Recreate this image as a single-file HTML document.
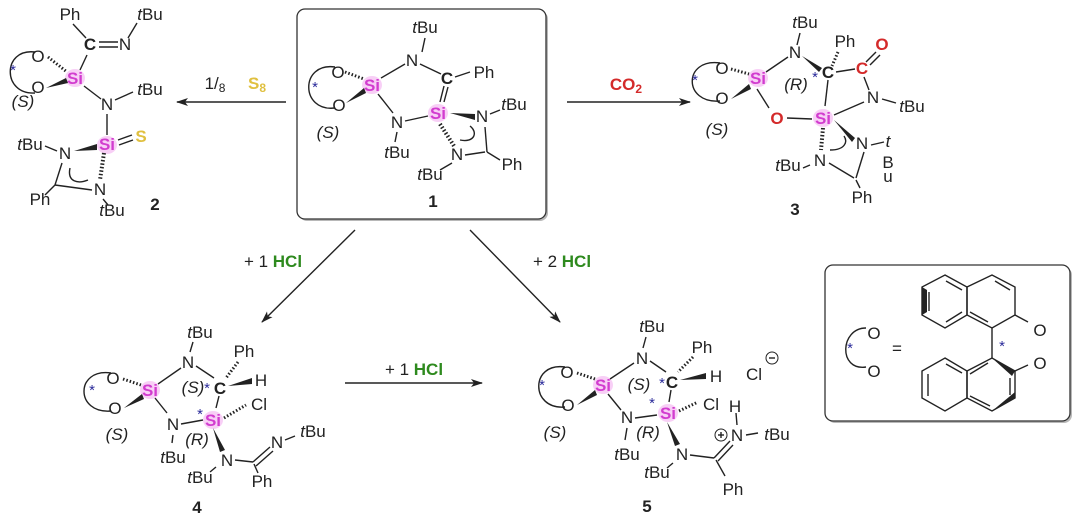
<!DOCTYPE html>
<html><head><meta charset="utf-8"><style>
html,body{margin:0;padding:0;background:#fff;}
svg{display:block;font-family:"Liberation Sans",sans-serif;}
text{font-size:17px;fill:#222;text-anchor:middle;}
.si{fill:#d23ccf;font-weight:bold;}
.st{fill:#2a2a9a;font-size:15px;}
.r{fill:#d42a2a;font-weight:bold;}
.g{fill:#2e8a1e;font-weight:bold;}
.y{fill:#e0c040;font-weight:bold;}
.b{font-weight:bold;}
.i{font-style:italic;}
line,path,polyline,polygon{stroke:#222;stroke-width:1.4;fill:none;}
.sh{fill:#f3a8ef;opacity:.55;}
</style></head><body>
<svg width="1080" height="522" viewBox="0 0 1080 522">
<defs>
<marker id="ah" markerWidth="12" markerHeight="8" refX="11" refY="4" orient="auto" markerUnits="userSpaceOnUse">
<path d="M0,0 L12,4 L0,8 L3,4 Z" style="fill:#222;stroke:none"/></marker>
</defs>
<!-- boxes -->
<rect x="299" y="11" width="249" height="210" rx="8" style="fill:#888;stroke:none;opacity:.6"/>
<rect x="297" y="9" width="249" height="210" rx="8" style="fill:#fff;stroke:#333;stroke-width:1.3"/>
<rect x="827" y="267" width="245" height="156" rx="8" style="fill:#888;stroke:none;opacity:.6"/>
<rect x="825" y="265" width="245" height="156" rx="8" style="fill:#fff;stroke:#333;stroke-width:1.3"/>

<!-- arrows -->
<line x1="286" y1="102" x2="177" y2="102" marker-end="url(#ah)"/>
<text x="215" y="89">1/<tspan font-size="12" dy="3">8</tspan></text>
<text x="257" y="89" class="y">S<tspan font-size="12" dy="3">8</tspan></text>
<line x1="567" y1="102" x2="690" y2="102" marker-end="url(#ah)"/>
<text x="626" y="90" class="r">CO<tspan font-size="12" dy="3">2</tspan></text>
<line x1="355" y1="230" x2="262" y2="322" marker-end="url(#ah)"/>
<text x="273" y="267">+ 1 <tspan class="g">HCl</tspan></text>
<line x1="470" y1="230" x2="560" y2="322" marker-end="url(#ah)"/>
<text x="562" y="267">+ 2 <tspan class="g">HCl</tspan></text>
<line x1="345" y1="383" x2="482" y2="383" marker-end="url(#ah)"/>
<text x="414" y="375">+ 1 <tspan class="g">HCl</tspan></text>

<!-- molecule 1 -->
<g>
<ellipse class="sh" cx="372" cy="85" rx="10" ry="9"/><ellipse class="sh" cx="438" cy="113" rx="10" ry="9"/>
<path d="M335,67 C300,62 300,112 335,108"/>
<text x="315" y="92" class="st">*</text>
<text x="338" y="78">O</text><text x="339" y="111">O</text>
<text x="372" y="91" class="si">Si</text>
<text x="425" y="33" class="i">t<tspan font-style="normal">Bu</tspan></text>
<line x1="425" y1="38" x2="422" y2="52"/>
<text x="412" y="66">N</text>
<line x1="381" y1="78" x2="405" y2="64"/><line x1="420" y1="64" x2="441" y2="74"/>
<text x="447" y="84" class="b">C</text>
<line x1="455" y1="77" x2="470" y2="72"/><text x="484" y="78">Ph</text>
<line x1="444" y1="86" x2="440" y2="102"/><line x1="448" y1="87" x2="444" y2="102"/>
<line x1="378" y1="94" x2="393" y2="113"/>
<text x="397" y="128">N</text>
<line x1="405" y1="121" x2="428" y2="116"/>
<line x1="397" y1="132" x2="395" y2="142"/>
<text x="397" y="158" class="i">t<tspan font-style="normal">Bu</tspan></text>
<text x="438" y="119" class="si">Si</text>
<path d="M450,113 L475,114 L475,120 Z" style="fill:#222;stroke:none"/>
<text x="482" y="122">N</text>
<text x="514" y="110" class="i">t<tspan font-style="normal">Bu</tspan></text>
<line x1="490" y1="114" x2="500" y2="110"/>
<path d="M440,124 L454,146" stroke-dasharray="1.5,2" style="stroke-width:4"/>
<text x="457" y="160">N</text>
<line x1="465" y1="155" x2="485" y2="152"/><line x1="485" y1="127" x2="487" y2="152"/>
<path d="M460,140 C475,143 478,132 470,126"/>
<line x1="487" y1="152" x2="500" y2="160"/>
<text x="512" y="170">Ph</text>
<line x1="452" y1="163" x2="440" y2="170"/>
<text x="430" y="180" class="i">t<tspan font-style="normal">Bu</tspan></text>
<text x="328" y="138" class="i">(S)</text>
<text x="433" y="207" class="b">1</text>
<line x1="345" y1="72" x2="364" y2="79" stroke-dasharray="1.5,2" style="stroke-width:3"/>
<path d="M346,103 L364,88 L366,93 Z" style="fill:#222;stroke:none"/>
</g>

<!-- molecule 2 -->
<g>
<ellipse class="sh" cx="75" cy="78" rx="10" ry="9"/><ellipse class="sh" cx="107" cy="145" rx="10" ry="9"/>
<path d="M35,52 C2,48 2,95 35,93"/>
<text x="13" y="75" class="st">*</text>
<text x="70" y="20">Ph</text><text x="150" y="20" class="i">t<tspan font-style="normal">Bu</tspan></text>
<line x1="73" y1="24" x2="86" y2="38"/><line x1="137" y1="23" x2="128" y2="38"/>
<text x="90" y="50" class="b">C</text>
<line x1="99" y1="42" x2="118" y2="42"/><line x1="99" y1="47" x2="118" y2="47"/>
<text x="125" y="50">N</text>
<text x="38" y="62">O</text><text x="38" y="93">O</text>
<line x1="48" y1="57" x2="67" y2="72" stroke-dasharray="1.5,2" style="stroke-width:3"/>
<path d="M46,88 L66,78 L68,83 Z" style="fill:#222;stroke:none"/>
<line x1="87" y1="55" x2="80" y2="70"/>
<text x="75" y="84" class="si">Si</text>
<text x="23" y="107" class="i">(S)</text>
<line x1="84" y1="86" x2="101" y2="99"/>
<text x="107" y="110">N</text>
<line x1="115" y1="100" x2="133" y2="92"/>
<text x="150" y="95" class="i">t<tspan font-style="normal">Bu</tspan></text>
<line x1="107" y1="114" x2="107" y2="135"/>
<text x="107" y="150" class="si">Si</text>
<line x1="118" y1="140" x2="132" y2="135"/><line x1="119" y1="145" x2="133" y2="140"/>
<text x="141" y="142" class="y">S</text>
<text x="30" y="150" class="i">t<tspan font-style="normal">Bu</tspan></text>
<line x1="45" y1="146" x2="57" y2="151"/>
<text x="65" y="159">N</text>
<path d="M74,151 L97,144 L97,150 Z" style="fill:#222;stroke:none"/>
<path d="M104,153 L100,180" stroke-dasharray="1.5,2" style="stroke-width:4"/>
<text x="100" y="195">N</text>
<line x1="62" y1="163" x2="55" y2="185"/><line x1="55" y1="185" x2="92" y2="190"/>
<path d="M70,168 C67,182 78,184 88,180"/>
<line x1="55" y1="185" x2="45" y2="195"/>
<text x="40" y="205">Ph</text>
<line x1="103" y1="199" x2="108" y2="205"/>
<text x="112" y="216" class="i">t<tspan font-style="normal">Bu</tspan></text>
<text x="155" y="210" class="b">2</text>
</g>

<!-- molecule 3 -->
<g>
<ellipse class="sh" cx="758" cy="78" rx="10" ry="9"/><ellipse class="sh" cx="823" cy="118" rx="10" ry="9"/>
<path d="M720,63 C683,58 683,104 720,101"/>
<text x="695" y="85" class="st">*</text>
<text x="722" y="74">O</text><text x="722" y="104">O</text>
<line x1="731" y1="69" x2="749" y2="74" stroke-dasharray="1.5,2" style="stroke-width:3"/>
<path d="M731,99 L749,84 L751,89 Z" style="fill:#222;stroke:none"/>
<text x="758" y="84" class="si">Si</text>
<text x="805" y="28" class="i">t<tspan font-style="normal">Bu</tspan></text>
<line x1="800" y1="33" x2="797" y2="45"/>
<text x="795" y="58">N</text>
<line x1="766" y1="72" x2="788" y2="57"/>
<path d="M802,56 L822,68 L819,72 Z" style="fill:#222;stroke:none"/>
<text x="828" y="78" class="b">C</text>
<text x="815" y="82" class="st">*</text>
<text x="796" y="90" class="i">(R)</text>
<text x="845" y="47">Ph</text>
<line x1="838" y1="52" x2="832" y2="66" stroke-dasharray="1.5,2" style="stroke-width:3"/>
<line x1="836" y1="72" x2="855" y2="69"/>
<text x="862" y="74" class="r">C</text>
<text x="882" y="50" class="r">O</text>
<line x1="866" y1="62" x2="876" y2="52"/><line x1="870" y1="65" x2="880" y2="55"/>
<line x1="864" y1="77" x2="869" y2="90"/>
<text x="873" y="103">N</text>
<line x1="882" y1="99" x2="896" y2="103"/>
<text x="912" y="112" class="i">t<tspan font-style="normal">Bu</tspan></text>
<line x1="757" y1="89" x2="769" y2="108"/>
<text x="777" y="124" class="r">O</text>
<line x1="787" y1="118" x2="812" y2="119"/>
<line x1="828" y1="80" x2="825" y2="106"/>
<text x="823" y="124" class="si">Si</text>
<line x1="834" y1="115" x2="864" y2="102"/>
<path d="M834,120 L855,138 L852,142 Z" style="fill:#222;stroke:none"/>
<text x="862" y="149">N</text>
<line x1="871" y1="145" x2="884" y2="142"/>
<text x="888" y="147" class="i">t</text><text x="888" y="168">B</text><text x="888" y="182">u</text>
<path d="M823,128 L821,150" stroke-dasharray="1.5,2" style="stroke-width:4"/>
<text x="820" y="166">N</text>
<line x1="810" y1="165" x2="803" y2="168"/>
<text x="788" y="171" class="i">t<tspan font-style="normal">Bu</tspan></text>
<line x1="829" y1="163" x2="854" y2="178"/><line x1="864" y1="152" x2="856" y2="178"/>
<path d="M830,150 C845,150 848,142 844,136"/>
<line x1="856" y1="180" x2="860" y2="188"/>
<text x="862" y="203">Ph</text>
<text x="717" y="135" class="i">(S)</text>
<text x="795" y="215" class="b">3</text>
</g>

<!-- molecule 4 -->
<g>
<ellipse class="sh" cx="150" cy="390" rx="10" ry="9"/><ellipse class="sh" cx="213" cy="420" rx="10" ry="9"/>
<path d="M111,373 C75,368 75,414 111,411"/>
<text x="92" y="395" class="st">*</text>
<text x="113" y="384">O</text><text x="115" y="414">O</text>
<line x1="123" y1="379" x2="141" y2="385" stroke-dasharray="1.5,2" style="stroke-width:3"/>
<path d="M124,408 L142,394 L144,399 Z" style="fill:#222;stroke:none"/>
<text x="150" y="396" class="si">Si</text>
<text x="200" y="338" class="i">t<tspan font-style="normal">Bu</tspan></text>
<line x1="193" y1="342" x2="190" y2="352"/>
<text x="188" y="368">N</text>
<line x1="158" y1="384" x2="181" y2="368"/><line x1="196" y1="366" x2="214" y2="378"/>
<text x="220" y="394" class="b">C</text>
<text x="207" y="393" class="st">*</text>
<text x="193" y="393" class="i">(S)</text>
<text x="244" y="357">Ph</text>
<line x1="238" y1="362" x2="226" y2="378" stroke-dasharray="1.5,2" style="stroke-width:3"/>
<path d="M228,386 L252,378 L252,384 Z" style="fill:#222;stroke:none"/>
<text x="261" y="386">H</text>
<line x1="219" y1="396" x2="216" y2="408"/>
<text x="213" y="426" class="si">Si</text>
<text x="200" y="419" class="st">*</text>
<line x1="224" y1="418" x2="246" y2="405" stroke-dasharray="1.5,2" style="stroke-width:3"/>
<text x="259" y="410">Cl</text>
<line x1="155" y1="398" x2="167" y2="413"/>
<text x="173" y="430">N</text>
<line x1="181" y1="424" x2="203" y2="420"/>
<line x1="173" y1="435" x2="172" y2="443"/>
<text x="173" y="463" class="i">t<tspan font-style="normal">Bu</tspan></text>
<text x="197" y="445" class="i">(R)</text>
<path d="M213,428 L225,450 L220,452 Z" style="fill:#222;stroke:none"/>
<text x="227" y="466">N</text>
<line x1="216" y1="467" x2="210" y2="472"/>
<text x="200" y="483" class="i">t<tspan font-style="normal">Bu</tspan></text>
<line x1="235" y1="460" x2="253" y2="462"/>
<line x1="253" y1="462" x2="270" y2="447"/><line x1="256" y1="466" x2="273" y2="451"/>
<text x="277" y="448">N</text>
<line x1="285" y1="440" x2="295" y2="436"/>
<text x="313" y="437" class="i">t<tspan font-style="normal">Bu</tspan></text>
<line x1="254" y1="464" x2="258" y2="473"/>
<text x="262" y="487">Ph</text>
<text x="117" y="440" class="i">(S)</text>
<text x="197" y="513" class="b">4</text>
</g>

<!-- molecule 5 -->
<g>
<ellipse class="sh" cx="603" cy="385" rx="10" ry="9"/><ellipse class="sh" cx="668" cy="413" rx="10" ry="9"/>
<path d="M565,367 C530,362 530,410 565,407"/>
<text x="542" y="390" class="st">*</text>
<text x="567" y="378">O</text><text x="568" y="411">O</text>
<line x1="577" y1="373" x2="595" y2="379" stroke-dasharray="1.5,2" style="stroke-width:3"/>
<path d="M577,405 L595,390 L597,395 Z" style="fill:#222;stroke:none"/>
<text x="603" y="391" class="si">Si</text>
<text x="652" y="332" class="i">t<tspan font-style="normal">Bu</tspan></text>
<line x1="646" y1="337" x2="643" y2="348"/>
<text x="642" y="364">N</text>
<line x1="610" y1="379" x2="634" y2="363"/><line x1="650" y1="361" x2="666" y2="372"/>
<text x="672" y="388" class="b">C</text>
<text x="662" y="388" class="st">*</text>
<text x="639" y="390" class="i">(S)</text>
<text x="702" y="353">Ph</text>
<line x1="693" y1="357" x2="678" y2="372" stroke-dasharray="1.5,2" style="stroke-width:3"/>
<path d="M680,380 L706,373 L706,379 Z" style="fill:#222;stroke:none"/>
<text x="716" y="382">H</text>
<text x="754" y="380">Cl</text>
<circle cx="772" cy="358" r="6" style="fill:none;stroke:#222;stroke-width:1"/>
<line x1="769" y1="358" x2="775" y2="358"/>
<line x1="671" y1="390" x2="669" y2="402"/>
<text x="668" y="419" class="si">Si</text>
<text x="652" y="408" class="st">*</text>
<line x1="679" y1="411" x2="698" y2="402" stroke-dasharray="1.5,2" style="stroke-width:3"/>
<text x="711" y="410">Cl</text>
<line x1="608" y1="394" x2="621" y2="410"/>
<text x="627" y="423">N</text>
<line x1="635" y1="418" x2="657" y2="415"/>
<line x1="627" y1="428" x2="625" y2="440"/>
<text x="627" y="460" class="i">t<tspan font-style="normal">Bu</tspan></text>
<text x="648" y="438" class="i">(R)</text>
<path d="M667,422 L680,444 L675,446 Z" style="fill:#222;stroke:none"/>
<text x="682" y="460">N</text>
<line x1="673" y1="463" x2="667" y2="468"/>
<text x="657" y="478" class="i">t<tspan font-style="normal">Bu</tspan></text>
<line x1="690" y1="455" x2="714" y2="458"/>
<line x1="714" y1="458" x2="730" y2="441"/><line x1="718" y1="461" x2="733" y2="445"/>
<text x="737" y="441">N</text>
<circle cx="721" cy="435" r="6" style="fill:none;stroke:#222;stroke-width:1"/>
<line x1="718" y1="435" x2="724" y2="435"/><line x1="721" y1="432" x2="721" y2="438"/>
<line x1="736" y1="413" x2="737" y2="425"/>
<text x="735" y="412">H</text>
<line x1="746" y1="435" x2="758" y2="433"/>
<text x="777" y="440" class="i">t<tspan font-style="normal">Bu</tspan></text>
<line x1="716" y1="460" x2="725" y2="476"/>
<text x="733" y="495">Ph</text>
<text x="555" y="438" class="i">(S)</text>
<text x="647" y="512" class="b">5</text>
</g>

<!-- binaphthol legend -->
<g>
<path d="M866,328 C840,328 838,371 866,367"/>
<text x="874" y="339">O</text><text x="874" y="377">O</text>
<text x="850" y="353" class="st">*</text>
<text x="897" y="354">=</text>
<polygon points="945,275 967,287 967,315 945,328 922,315 922,287"/>
<polygon points="967,287 992,275 1015,287 1015,315 992,328 967,315"/>
<path d="M922,287 L927,290 L927,312 L922,315 Z" style="fill:#222;stroke:none"/>
<line x1="929" y1="292" x2="929" y2="311"/>
<line x1="946" y1="281" x2="962" y2="290"/><line x1="946" y1="322" x2="962" y2="312"/>
<line x1="995" y1="281" x2="1010" y2="290"/><line x1="970" y1="312" x2="988" y2="322"/>
<line x1="1015" y1="315" x2="1028" y2="322"/>
<text x="1040" y="336">O</text>
<line x1="992" y1="328" x2="992" y2="358"/>
<text x="1002" y="351" class="st">*</text>
<polygon points="945,358 967,371 967,398 945,411 922,398 922,371"/>
<polygon points="967,371 992,358 1015,371 1015,398 992,411 967,398"/>
<path d="M992,358 L1015,371 L1012,376 Z" style="fill:#222;stroke:none"/>
<path d="M1015,398 L992,411 L1015,392 Z" style="fill:#222;stroke:none"/>
<line x1="1010" y1="378" x2="1010" y2="395"/>
<line x1="970" y1="374" x2="988" y2="363"/><line x1="970" y1="396" x2="990" y2="406"/>
<line x1="928" y1="374" x2="928" y2="396"/><line x1="946" y1="364" x2="962" y2="373"/>
<line x1="1015" y1="371" x2="1028" y2="365"/>
<text x="1040" y="369">O</text>
</g>
</svg>
</body></html>
